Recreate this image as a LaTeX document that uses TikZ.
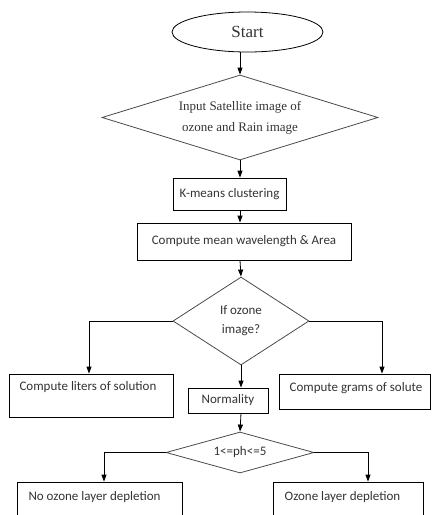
\documentclass[tikz,border=0pt]{standalone}
\usepackage{fontspec}
\usetikzlibrary{shapes.geometric,arrows.meta,calc}
\newfontfamily\calfont{Carlito}
\newfontfamily\serfont{Liberation Serif}
\definecolor{txt}{HTML}{333333}
\definecolor{dline}{HTML}{4A4A4A}
\begin{document}
\begin{tikzpicture}[x=1pt,y=-1pt,
  box/.style={draw=black,line width=0.8pt,rectangle,inner sep=0pt},
  dia/.style={draw=dline,line width=0.8pt,diamond,inner sep=0pt},
  lbl/.style={font=\calfont\fontsize{13}{19}\selectfont,text=txt,inner sep=0pt,align=center},
  arr/.style={draw=black,line width=0.8pt,-{Triangle[length=7pt,width=5pt]}}]
\useasboundingbox (0,0) rectangle (432,515);
\node[draw=black,line width=0.8pt,ellipse,minimum width=151pt,minimum height=40pt,inner sep=0pt,
  font=\serfont\fontsize{17}{20}\selectfont,text=txt] (start) at (247.5,32) {Start};
\node[dia,minimum width=276pt,minimum height=85pt,aspect=3.25,
  font=\serfont\fontsize{13}{21}\selectfont,text=txt,align=center] (d1) at (240,117.5)
  {Input Satellite image of\\ozone and Rain image};
\node[box,minimum width=113pt,minimum height=32pt,lbl] (km) at (229.5,194) {K-means clustering};
\node[box,minimum width=214pt,minimum height=37pt,lbl] (mean) at (244,241.5) {Compute mean wavelength \& Area};
\node[dia,minimum width=136pt,minimum height=88pt,aspect=1.55,lbl] (d2) at (241,321) {If ozone\\image?};
\node[box,minimum width=164pt,minimum height=43pt] (lbox) at (91,395.5) {};
\node[lbl] (ltxt) at (88,387) {Compute liters of solution};
\node[box,minimum width=151pt,minimum height=35pt] (rbox) at (354.5,391.5) {};
\node[lbl] (rtxt) at (356,388) {Compute grams of solute};
\node[box,minimum width=80pt,minimum height=25pt,lbl] (nrm) at (228,400.5) {Normality};
\node[dia,minimum width=148pt,minimum height=41pt,aspect=3.6,lbl] (d3) at (240,452.5) {1<=ph<=5};
\node[box,minimum width=165pt,minimum height=48pt] (bl) at (99.5,506) {};
\node[lbl] (bltxt) at (94.5,497) {No ozone layer depletion};
\node[box,minimum width=150pt,minimum height=48pt] (br) at (348,506) {};
\node[lbl] (brtxt) at (342.5,497) {Ozone layer depletion};
% connectors
\draw[arr] (d1.north |- start.south) -- (d1.north);
\draw[arr] (d1.south) -- (d1.south |- km.north);
\draw[arr] (d1.south |- km.south) -- (d1.south |- mean.north);
\draw[arr] (d1.south |- mean.south) -- (d2.north);
\draw[arr] (d2.west) -| ([xshift=-2pt]lbox.north);
\draw[arr] (d2.east) -| ([xshift=27.5pt]rbox.north);
\draw[arr] (d2.south) -- (d2.south |- nrm.north);
\draw[arr] (d2.south |- nrm.south) -- (d3.north);
\draw[arr] (d3.west) -| ([xshift=4.5pt]bl.north);
\draw[arr] (d3.east) -| ([xshift=20pt]br.north);
\end{tikzpicture}
\end{document}
